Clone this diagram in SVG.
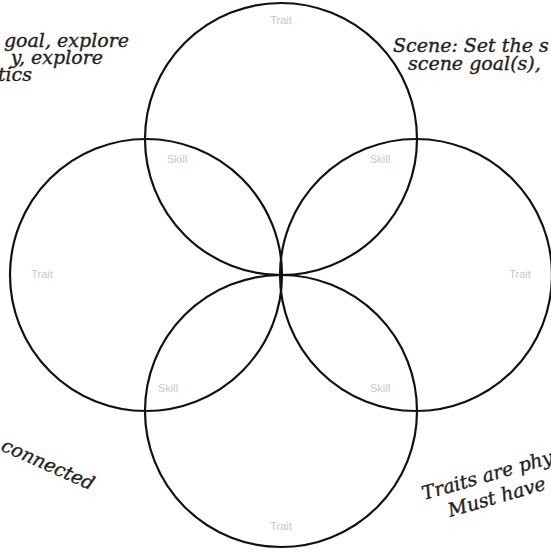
<svg xmlns="http://www.w3.org/2000/svg" width="551" height="554" viewBox="0 0 551 554">
<style>
.c{fill:none;stroke:#111;stroke-width:2.2}
.lbl{font-family:"Liberation Sans",Arial,sans-serif;font-size:11px;fill:#c8c8c8;text-anchor:middle}
.note{font-family:"DejaVu Serif",Georgia,serif;font-style:italic;font-size:19px;fill:#222;stroke:#222;stroke-width:0.35}
</style>
<rect width="551" height="554" fill="#fff"/>
<g id="connectors"></g>
<g id="top"><circle class="c" cx="281" cy="139" r="136"/><text class="lbl" x="281" y="24">Trait</text></g>
<g id="left"><circle class="c" cx="146" cy="275" r="136"/><text class="lbl" x="42" y="278">Trait</text></g>
<g id="right"><circle class="c" cx="416" cy="275" r="136"/><text class="lbl" x="520" y="278">Trait</text></g>
<g id="bottom"><circle class="c" cx="281" cy="411" r="136"/><text class="lbl" x="281" y="530">Trait</text></g>
<g id="skills">
<text class="lbl" x="177" y="163">Skill</text>
<text class="lbl" x="380" y="163">Skill</text>
<text class="lbl" x="168" y="392">Skill</text>
<text class="lbl" x="380" y="392">Skill</text>
</g>
<g id="notes">
<text class="note" text-anchor="end" x="129" y="47">goal, explore</text>
<text class="note" text-anchor="end" x="103" y="64">y, explore</text>
<text class="note" text-anchor="end" x="32" y="81">tics</text>
<text class="note" x="393" y="52">Scene: Set the s</text>
<text class="note" x="408" y="70">scene goal(s),</text>
<text class="note" transform="rotate(24 0 450)" x="0" y="450">connected</text>
<text class="note" transform="rotate(-16 424 500)" x="424" y="500">Traits are phy</text>
<text class="note" transform="rotate(-16 450 517)" x="450" y="517">Must have</text>
</g>
</svg>
